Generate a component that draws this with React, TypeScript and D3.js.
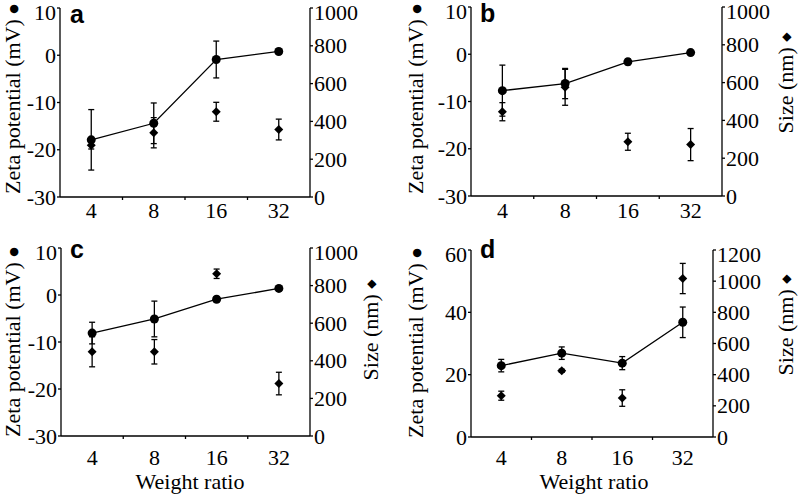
import React from "react";
import * as d3 from "d3";

const categories = ["4", "8", "16", "32"];

const zetaA = [-17.9, -14.4, -0.9, 0.8];
const zetaErrA = [6.4, 4.3, 3.9, 0.5];
const sizeA = [274, 340, 451, 357];
const sizeErrA = [20, 80, 50, 55];

const zetaB = [-7.7, -6.2, -1.6, 0.35];
const zetaErrB = [5.4, 3.2, 0.6, 0.2];
const sizeB = [446, 575, 287, 272];
const sizeErrB = [48, 95, 45, 85];

const zetaC = [-8.1, -5.1, -0.9, 1.4];
const zetaErrC = [2.3, 3.8, 0.5, 0.3];
const sizeC = [448, 448, 863, 279];
const sizeErrC = [80, 65, 25, 60];

const zetaD = [22.9, 26.9, 23.7, 36.8];
const zetaErrD = [2.0, 2.0, 2.1, 4.9];
const sizeD = [265, 425, 250, 1017];
const sizeErrD = [29, 10, 53, 97];

const zetaTicksNeg = [-30, -20, -10, 0, 10];
const zetaTicksPos = [0, 20, 40, 60];
const sizeTicks1000 = [0, 200, 400, 600, 800, 1000];
const sizeTicks1200 = [0, 200, 400, 600, 800, 1000, 1200];

const zetaLabel = "Zeta potential (mV) ";
const zetaSymbol = "\u25CF";
const sizeLabel = "Size (nm) ";
const sizeSymbol = "\u25C6";
const xLabel = "Weight ratio";

type Panel = {
  letter: string;
  zeta: number[];
  zetaErr: number[];
  size: number[];
  sizeErr: number[];
  zDomain: [number, number];
  sDomain: [number, number];
  zTicks: number[];
  sTicks: number[];
  frame: { l: number; r: number; t: number; b: number };
  letterPos: [number, number];
  zLabelPos: [number, number];
  sLabelPos: [number, number] | null;
  xTickY: number;
  xLabelPos: [number, number] | null;
};

const panels: Panel[] = [
  {
    letter: "a", zeta: zetaA, zetaErr: zetaErrA, size: sizeA, sizeErr: sizeErrA,
    zDomain: [-30, 10], sDomain: [0, 1000], zTicks: zetaTicksNeg, sTicks: sizeTicks1000,
    frame: { l: 60, r: 310, t: 8, b: 197 }, letterPos: [70, 23], zLabelPos: [19.5, 99],
    sLabelPos: null, xTickY: 218, xLabelPos: null,
  },
  {
    letter: "b", zeta: zetaB, zetaErr: zetaErrB, size: sizeB, sizeErr: sizeErrB,
    zDomain: [-30, 10], sDomain: [0, 1000], zTicks: zetaTicksNeg, sTicks: sizeTicks1000,
    frame: { l: 471, r: 722, t: 7, b: 196 }, letterPos: [480, 22], zLabelPos: [423, 99],
    sLabelPos: [793, 83], xTickY: 218, xLabelPos: null,
  },
  {
    letter: "c", zeta: zetaC, zetaErr: zetaErrC, size: sizeC, sizeErr: sizeErrC,
    zDomain: [-30, 10], sDomain: [0, 1000], zTicks: zetaTicksNeg, sTicks: sizeTicks1000,
    frame: { l: 61, r: 310, t: 248, b: 436 }, letterPos: [70, 258], zLabelPos: [19.5, 342],
    sLabelPos: [378, 330], xTickY: 465, xLabelPos: [190, 489],
  },
  {
    letter: "d", zeta: zetaD, zetaErr: zetaErrD, size: sizeD, sizeErr: sizeErrD,
    zDomain: [0, 60], sDomain: [0, 1200], zTicks: zetaTicksPos, sTicks: sizeTicks1200,
    frame: { l: 471, r: 713, t: 250, b: 437 }, letterPos: [480, 258], zLabelPos: [423, 343],
    sLabelPos: [793, 325], xTickY: 465, xLabelPos: [594, 489],
  },
];

const serif = { fontFamily: "Liberation Serif" };
const sans = { fontFamily: "Liberation Sans" };
const symFont = { fontFamily: "DejaVu Sans" };
const FS = 22;
const SW = 1.3;
const TOP_SHIFT = 4.5;

function PanelView({ p }: { p: Panel }) {
  const { l, r, t, b } = p.frame;
  const x = d3.scaleBand<string>().domain(categories).range([l, r]);
  const yz = d3.scaleLinear().domain(p.zDomain).range([b, t]);
  const ys = d3.scaleLinear().domain(p.sDomain).range([b, t]);
  const cx = (c: string) => (x(c) as number) + x.bandwidth() / 2;
  const line = d3
    .line<number>()
    .x((_, i) => cx(categories[i]))
    .y((v) => yz(v));
  const diamond = d3.symbol(d3.symbolSquare, 40)() as string;
  const capW = 3;
  const zMax = p.zTicks[p.zTicks.length - 1];
  const sMax = p.sTicks[p.sTicks.length - 1];

  return (
    <g>
      <line x1={l} x2={l} y1={t} y2={b} stroke="#000" strokeWidth={SW} />
      <line x1={r} x2={r} y1={t} y2={b} stroke="#000" strokeWidth={SW} />
      <line x1={l} x2={r} y1={b} y2={b} stroke="#000" strokeWidth={SW} />
      {p.zTicks.map((v) => (
        <g key={"zt" + v}>
          <line x1={l - 3} x2={l} y1={yz(v)} y2={yz(v)} stroke="#000" strokeWidth={SW} />
          <text
            x={l - 4}
            y={yz(v) + (v === zMax ? TOP_SHIFT : 0)}
            textAnchor="end"
            dominantBaseline="central"
            fontSize={FS}
            style={serif}
          >
            {String(v)}
          </text>
        </g>
      ))}
      {p.sTicks.map((v) => (
        <g key={"st" + v}>
          <line x1={r} x2={r + 3} y1={ys(v)} y2={ys(v)} stroke="#000" strokeWidth={SW} />
          <text
            x={r + 4}
            y={ys(v) + (v === sMax ? TOP_SHIFT : 0)}
            textAnchor="start"
            dominantBaseline="central"
            fontSize={FS}
            style={serif}
          >
            {String(v)}
          </text>
        </g>
      ))}
      {categories.slice(1).map((c) => (
        <line key={"xt" + c} x1={x(c)} x2={x(c)} y1={b} y2={b + 3} stroke="#000" strokeWidth={SW} />
      ))}
      {categories.map((c) => (
        <text key={"xl" + c} x={cx(c)} y={p.xTickY} textAnchor="middle" fontSize={FS} style={serif}>
          {c}
        </text>
      ))}
      {categories.map((c, i) => {
        const X = cx(c);
        const y0 = ys(p.size[i] - p.sizeErr[i]);
        const y1 = ys(p.size[i] + p.sizeErr[i]);
        return (
          <g key={"s" + c}>
            <line x1={X} x2={X} y1={y0} y2={y1} stroke="#000" strokeWidth={SW} />
            <line x1={X - capW} x2={X + capW} y1={y0} y2={y0} stroke="#000" strokeWidth={SW} />
            <line x1={X - capW} x2={X + capW} y1={y1} y2={y1} stroke="#000" strokeWidth={SW} />
            <path d={diamond} transform={`translate(${X},${ys(p.size[i])}) rotate(45)`} fill="#000" />
          </g>
        );
      })}
      <path d={line(p.zeta) as string} fill="none" stroke="#000" strokeWidth={SW} />
      {categories.map((c, i) => {
        const X = cx(c);
        const y0 = yz(p.zeta[i] - p.zetaErr[i]);
        const y1 = yz(p.zeta[i] + p.zetaErr[i]);
        return (
          <g key={"z" + c}>
            <line x1={X} x2={X} y1={y0} y2={y1} stroke="#000" strokeWidth={SW} />
            <line x1={X - capW} x2={X + capW} y1={y0} y2={y0} stroke="#000" strokeWidth={SW} />
            <line x1={X - capW} x2={X + capW} y1={y1} y2={y1} stroke="#000" strokeWidth={SW} />
            <circle cx={X} cy={yz(p.zeta[i])} r={4.5} fill="#000" />
          </g>
        );
      })}
      <text x={p.letterPos[0]} y={p.letterPos[1]} fontWeight="bold" fontSize={25} style={sans}>
        {p.letter}
      </text>
      <text
        transform={`translate(${p.zLabelPos[0]},${p.zLabelPos[1]}) rotate(-90)`}
        textAnchor="middle"
        fontSize={FS}
        style={serif}
      >
        {zetaLabel}
        <tspan fontSize={11} style={symFont} dy={-3}>{zetaSymbol}</tspan>
      </text>
      {p.sLabelPos && (
        <text
          transform={`translate(${p.sLabelPos[0]},${p.sLabelPos[1]}) rotate(-90)`}
          textAnchor="middle"
          fontSize={FS}
          style={serif}
        >
          {sizeLabel}
          <tspan fontSize={12} style={symFont} dy={-3}>{sizeSymbol}</tspan>
        </text>
      )}
      {p.xLabelPos && (
        <text x={p.xLabelPos[0]} y={p.xLabelPos[1]} textAnchor="middle" fontSize={FS} style={serif}>
          {xLabel}
        </text>
      )}
    </g>
  );
}

export default function App() {
  return (
    <svg
      width={799}
      height={498}
      viewBox="0 0 799 498"
      style={{ position: "absolute", left: 0, top: 0, background: "#fff" }}
    >
      <rect x={0} y={0} width={799} height={498} fill="#fff" />
      {panels.map((p) => (
        <PanelView key={p.letter} p={p} />
      ))}
    </svg>
  );
}
